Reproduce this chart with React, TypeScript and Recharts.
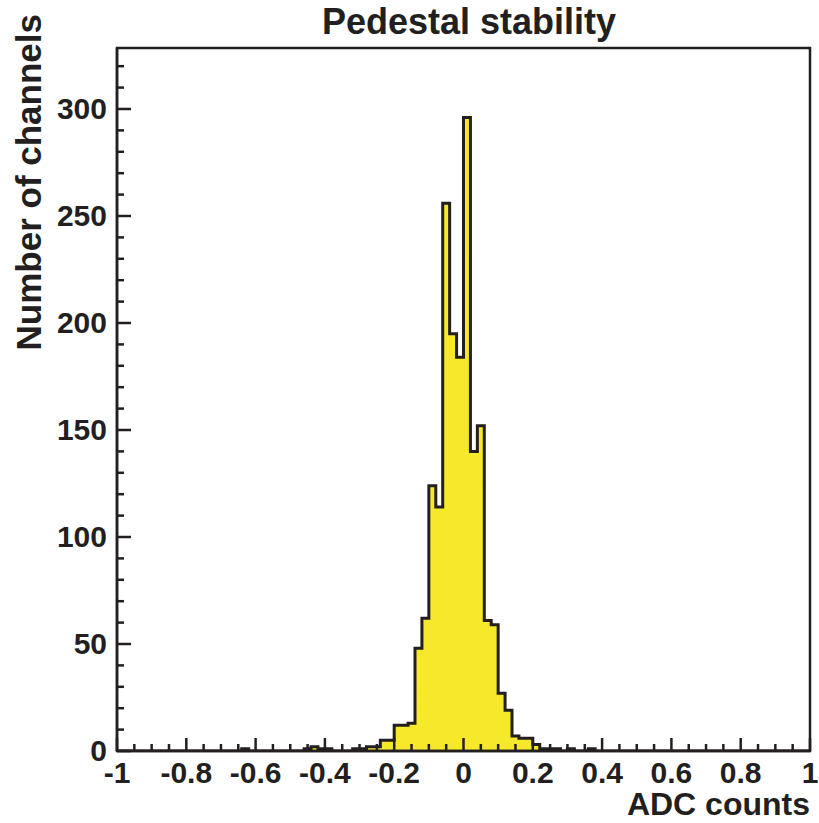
import { Area, ComposedChart, Customized, ReferenceArea, XAxis, YAxis } from "recharts";

// histogram: 100 bins of 0.02 from -1 to 1
const binStart = -1;
const binWidth = 0.02;
const counts = [
  0, 0, 0, 0, 0, 0, 0, 0, 0, 0,
  0, 0, 0, 0, 0, 0, 0, 0, 1, 0,
  0, 0, 0, 0, 0, 0, 0, 1, 2, 1,
  1, 0, 0, 0, 1, 1, 2, 2, 5, 5,
  12, 12, 13, 48, 62, 124, 114, 256, 195, 184,
  296, 140, 152, 61, 59, 27, 19, 7, 6, 6,
  3, 1, 1, 1, 0, 1, 0, 0, 1, 0,
  0, 0, 0, 0, 0, 0, 0, 0, 0, 0,
  0, 0, 0, 0, 0, 0, 0, 0, 0, 0,
  0, 0, 0, 0, 0, 0, 0, 0, 0, 0
];

const xMajorTicks = [-1, -0.8, -0.6, -0.4, -0.2, 0, 0.2, 0.4, 0.6, 0.8, 1];
const xTickLabels = ["-1", "-0.8", "-0.6", "-0.4", "-0.2", "0", "0.2", "0.4", "0.6", "0.8", "1"];
const yMajorTicks = [0, 50, 100, 150, 200, 250, 300];
const yTickLabels = ["0", "50", "100", "150", "200", "250", "300"];
const yMax = 328.5;

const INK = "#231f20";
const FILL = "#f6e82a";
const FONT = "'Liberation Sans', Arial, Helvetica, sans-serif";

const histData = counts
  .map((n, i) => ({ x: Math.round((binStart + i * binWidth) * 100) / 100, n }))
  .concat([{ x: 1, n: counts[counts.length - 1] }]);

// minor ticks every 0.05 on x, every 10 on y
const xAllTicks: number[] = [];
for (let i = 0; i <= 40; i++) xAllTicks.push(Math.round((-1 + i * 0.05) * 100) / 100);
const yAllTicks: number[] = [];
for (let v = 0; v <= 320; v += 10) yAllTicks.push(v);

const XTick = (props: any) => {
  const { x, y, payload } = props;
  const idx = xMajorTicks.findIndex((t) => Math.abs(t - payload.value) < 1e-6);
  const major = idx >= 0;
  return (
    <g>
      <line x1={x} x2={x} y1={y} y2={y - (major ? 13 : 7)} stroke={INK} strokeWidth={2.5} />
      {major && (
        <text x={x} y={y + 32} textAnchor="middle" fontFamily={FONT} fontWeight="bold" fontSize={30} fill={INK}>
          {xTickLabels[idx]}
        </text>
      )}
    </g>
  );
};

const YTick = (props: any) => {
  const { x, y, payload } = props;
  const idx = yMajorTicks.indexOf(payload.value);
  const major = idx >= 0;
  return (
    <g>
      <line x1={x} x2={x + (major ? 14 : 7)} y1={y} y2={y} stroke={INK} strokeWidth={2.5} />
      {major && (
        <text x={x - 10} y={y + 10} textAnchor="end" fontFamily={FONT} fontWeight="bold" fontSize={30} fill={INK}>
          {yTickLabels[idx]}
        </text>
      )}
    </g>
  );
};

const Titles = () => (
  <g fontFamily={FONT} fontWeight="bold" fill={INK}>
    <text x={469} y={34} textAnchor="middle" fontSize={36}>
      Pedestal stability
    </text>
    <text x={41} y={14} textAnchor="end" fontSize={35} transform="rotate(-90 41 14)">
      Number of channels
    </text>
    <text x={810} y={815} textAnchor="end" fontSize={32}>
      ADC counts
    </text>
  </g>
);

export default function App() {
  return (
    <div style={{ position: "absolute", left: 0, top: 0, background: "#fff" }}>
      <ComposedChart width={819} height={823} data={histData} margin={{ top: 48, right: 9, left: 0, bottom: 0 }}>
        <Area
          type="stepAfter"
          dataKey="n"
          stroke={INK}
          strokeWidth={3}
          fill={FILL}
          fillOpacity={1}
          dot={false}
          activeDot={false}
          isAnimationActive={false}
        />
        <ReferenceArea x1={-1} x2={1} y1={0} y2={yMax} fill="none" stroke={INK} strokeWidth={2.5} ifOverflow="visible" />
        <XAxis
          dataKey="x"
          type="number"
          domain={[-1, 1]}
          ticks={xAllTicks}
          interval={0}
          height={72}
          tickSize={0}
          tickMargin={0}
          tickLine={false}
          axisLine={{ stroke: INK, strokeWidth: 2.5 }}
          tick={<XTick />}
        />
        <YAxis
          type="number"
          domain={[0, yMax]}
          ticks={yAllTicks}
          interval={0}
          width={117}
          tickSize={0}
          tickMargin={0}
          tickLine={false}
          axisLine={{ stroke: INK, strokeWidth: 2.5 }}
          tick={<YTick />}
          allowDataOverflow
        />
        <Customized component={<Titles />} />
      </ComposedChart>
    </div>
  );
}
